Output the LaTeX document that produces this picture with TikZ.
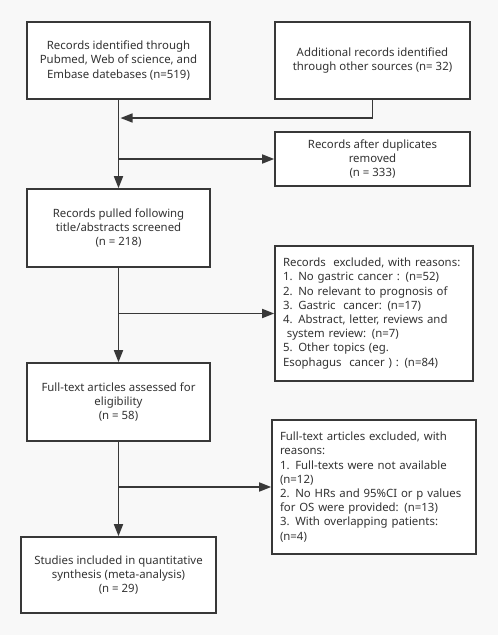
\documentclass[tikz,border=0pt]{standalone}
\usepackage{fontspec}
\setmainfont{Noto Sans}
\usetikzlibrary{arrows.meta}
\definecolor{bg}{HTML}{F8F8F8}
\definecolor{ln}{HTML}{383838}
\definecolor{tx}{HTML}{333333}
\tikzset{
  box/.style={draw=ln, line width=1.6pt, fill=white, inner sep=0pt, text=tx,
    font=\fontsize{11.4}{14.2}\selectfont, align=center},
  lbox/.style={box, align=left, inner xsep=8pt},
  conn/.style={draw=ln, line width=1.6pt},
  arr/.style={conn, -{Triangle[length=12pt,width=9pt]}},
}
\begin{document}
\begin{tikzpicture}[x=1pt,y=-1pt]
\path[fill=bg] (0,0) rectangle (498,635);
\useasboundingbox (0,0) rectangle (498,635);
\node[box, minimum width=183pt, minimum height=77pt] (b1) at (118.5,60.5)
  {Records identified through\\Pubmed, Web of science, and\\Embase datebases (n=519)};
\node[box, minimum width=195pt, minimum height=77pt] (b2) at (372.5,60.5)
  {Additional records identified\\through other sources (n= 32)};
\node[box, minimum width=195pt, minimum height=54pt] (b3) at (372.5,159)
  {Records after duplicates\\removed\\(n = 333)};
\node[box, minimum width=183pt, minimum height=78pt] (b4) at (118.5,228)
  {Records pulled following\\title/abstracts screened\\(n = 218)};
\node[lbox, minimum width=198pt, minimum height=135pt, text width=182pt] (b5) at (374,313.5)
  {Records\ \ excluded, with reasons:\\1. No gastric cancer : (n=52)\\2. No relevant to prognosis of\\3. Gastric\ \ cancer: (n=17)\\4. Abstract, letter, reviews and\\\ system review: (n=7)\\5. Other topics (eg.\\Esophagus\ \ cancer ) : (n=84)};
\node[box, minimum width=183pt, minimum height=78pt] (b6) at (118.5,402)
  {Full-text articles assessed for\\eligibility\\(n = 58)};
\node[lbox, minimum width=204pt, minimum height=134pt, text width=188pt] (b7) at (374,487)
  {Full-text articles excluded, with\\reasons:\\1. Full-texts were not available\\(n=12)\\2. No HRs and 95\%CI or p values\\for OS were provided: (n=13)\\3. With overlapping patients:\\(n=4)};
\node[box, minimum width=195pt, minimum height=76pt] (b8) at (118.5,575)
  {Studies included in quantitative\\synthesis (meta-analysis)\\(n = 29)};
% connectors
\coordinate (j1) at (118.5,118);
\coordinate (s1) at (118.5,159);
\coordinate (s2) at (118.5,313.5);
\coordinate (s3) at (118.5,487);
\draw[arr] (b1.south) -- (b4.north);
\draw[arr] (b2.south) |- ([xshift=2pt]j1);
\draw[arr] (s1) -- (b3.west);
\draw[arr] (b4.south) -- (b6.north);
\draw[arr] (s2) -- (b5.west);
\draw[arr] (b6.south) -- (b8.north);
\draw[arr] (s3) -- (b7.west);
\end{tikzpicture}
\end{document}
